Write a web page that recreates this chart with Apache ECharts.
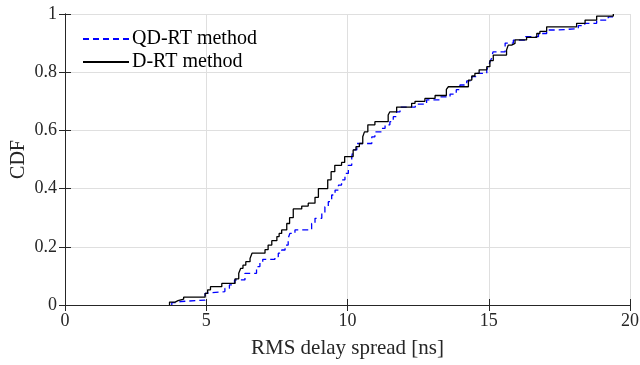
<!DOCTYPE html>
<html>
<head>
<meta charset="utf-8">
<script src="https://cdn.jsdelivr.net/npm/echarts@6/dist/echarts.min.js"></script>
<style>html,body{margin:0;padding:0;background:#fff}#c{width:640px;height:365px}</style>
</head>
<body>
<div id="c"></div>
<script>
var xTicks = [0, 5, 10, 15, 20];
var yTicks = [0, 0.2, 0.4, 0.6, 0.8, 1];
var seriesNames = ['QD-RT method', 'D-RT method'];

var qdrt = [
  [3.78,0],[3.78,0.008],[3.9,0.012],[4.1,0.017],[4.96,0.04],[5.02,0.046],
  [5.66,0.057],[5.82,0.069],[6.0,0.086],[6.37,0.109],[6.78,0.132],[6.9,0.145],
  [7.0,0.157],[7.43,0.166],[7.55,0.178],[7.67,0.189],[7.79,0.206],[7.9,0.229],
  [7.96,0.246],[8.14,0.258],[8.73,0.28],[8.85,0.298],[9.09,0.315],[9.2,0.338],
  [9.32,0.355],[9.44,0.378],[9.56,0.395],[9.68,0.412],[9.79,0.43],[9.91,0.452],
  [10.03,0.48],[10.15,0.51],[10.2,0.533],[10.33,0.555],[10.86,0.578],[10.97,0.595],
  [11.21,0.607],[11.33,0.619],[11.5,0.63],[11.62,0.647],[11.74,0.664],[11.86,0.68],
  [12.4,0.69],[12.8,0.705],[13.27,0.715],[13.63,0.725],[13.85,0.74],[13.98,0.756],
  [14.22,0.77],[14.4,0.785],[14.57,0.796],[14.93,0.808],[14.98,0.82],[15.04,0.835],
  [15.1,0.848],[15.15,0.87],[15.58,0.9],[15.87,0.91],[16.3,0.922],[16.76,0.933],
  [17.05,0.945],[17.46,0.95],[18.17,0.96],[18.4,0.968],[18.82,0.979],[19.23,0.99],[19.4,1.0]
];

var drt = [
  [3.7,0],[3.7,0.01],[3.9,0.015],[4.0,0.02],[4.2,0.027],[4.96,0.04],[5.05,0.052],
  [5.15,0.063],[5.55,0.074],[6.02,0.09],[6.15,0.109],[6.22,0.126],[6.3,0.137],
  [6.4,0.149],[6.55,0.16],[6.62,0.178],[7.08,0.19],[7.19,0.206],[7.32,0.221],
  [7.5,0.235],[7.58,0.246],[7.67,0.258],[7.85,0.28],[7.95,0.3],[8.08,0.33],
  [8.38,0.34],[8.61,0.35],[8.85,0.37],[8.97,0.4],[9.3,0.43],[9.42,0.458],
  [9.55,0.48],[9.79,0.49],[9.9,0.51],[10.2,0.533],[10.3,0.544],[10.42,0.555],
  [10.54,0.578],[10.6,0.595],[10.72,0.619],[10.97,0.63],[11.44,0.653],[11.5,0.664],
  [11.74,0.68],[12.27,0.693],[12.39,0.7],[12.74,0.71],[13.1,0.72],[13.5,0.741],
  [13.57,0.75],[14.28,0.773],[14.4,0.787],[14.51,0.796],[14.66,0.808],[14.93,0.819],
  [15.04,0.84],[15.16,0.859],[15.63,0.876],[15.69,0.893],[15.81,0.899],[15.93,0.911],
  [16.34,0.92],[16.7,0.933],[16.81,0.94],[17.05,0.956],[18.11,0.968],[18.41,0.979],
  [18.82,0.993],[19.41,1.0]
];

var FONT = 'Liberation Serif';
var axisCol = '#262626';
function fmtY(v){ return String(Math.round(v*10)/10); }

var chart = echarts.init(document.getElementById('c'), null, {renderer:'canvas'});
chart.setOption({
  animation: false,
  backgroundColor: '#fff',
  textStyle: {fontFamily: FONT},
  grid: {left: 65, right: 10, top: 14, bottom: 60, containLabel: false, outerBoundsMode: 'none'},
  legend: {
    show: true, orient: 'vertical', left: 77, top: 24,
    itemWidth: 46, itemHeight: 14, itemGap: 3,
    itemStyle: {opacity: 0, borderWidth: 0},
    textStyle: {fontFamily: FONT, fontSize: 20, color: '#000', padding: [0,0,0,-2]},
    data: seriesNames
  },
  xAxis: [{
    type: 'value', min: xTicks[0], max: xTicks[xTicks.length-1], interval: 5,
    position: 'bottom',
    name: 'RMS delay spread [ns]', nameLocation: 'middle', nameGap: 33, nameMoveOverlap: false,
    nameTextStyle: {fontFamily: FONT, fontSize: 21, color: '#262626'},
    axisLine: {show: true, lineStyle: {color: axisCol, width: 1}},
    axisTick: {show: true, inside: true, length: 6, lineStyle: {color: axisCol}},
    axisLabel: {fontFamily: FONT, fontSize: 18, color: '#262626', margin: 7},
    splitLine: {show: true, lineStyle: {color: '#dfdfdf', width: 1}}
  },{
    type: 'value', min: xTicks[0], max: xTicks[xTicks.length-1], interval: 5,
    position: 'top',
    axisLine: {show: true, lineStyle: {color: axisCol, width: 1}},
    axisTick: {show: true, inside: true, length: 6, lineStyle: {color: axisCol}},
    axisLabel: {show: false}, splitLine: {show: false}
  }],
  yAxis: [{
    type: 'value', min: yTicks[0], max: yTicks[yTicks.length-1], interval: 0.2,
    position: 'left',
    name: 'CDF', nameLocation: 'middle', nameGap: 36, nameRotate: 90, nameMoveOverlap: false,
    nameTextStyle: {fontFamily: FONT, fontSize: 20, color: '#262626'},
    axisLine: {show: true, lineStyle: {color: axisCol, width: 1}},
    axisTick: {show: true, inside: true, length: 6, lineStyle: {color: axisCol}},
    axisLabel: {fontFamily: FONT, fontSize: 18, color: '#262626', margin: 8, formatter: fmtY},
    splitLine: {show: true, lineStyle: {color: '#dfdfdf', width: 1}}
  },{
    type: 'value', min: yTicks[0], max: yTicks[yTicks.length-1], interval: 0.2,
    position: 'right',
    axisLine: {show: true, lineStyle: {color: axisCol, width: 1}},
    axisTick: {show: true, inside: true, length: 6, lineStyle: {color: axisCol}},
    axisLabel: {show: false}, splitLine: {show: false}
  }],
  series: [{
    name: seriesNames[0], type: 'line', step: 'end', data: qdrt,
    xAxisIndex: 0, yAxisIndex: 0, symbol: 'none', z: 3,
    lineStyle: {color: '#0000ff', width: 1.3, type: [6, 4]},
    itemStyle: {color: '#0000ff'}
  },{
    name: seriesNames[1], type: 'line', step: 'end', data: drt,
    xAxisIndex: 0, yAxisIndex: 0, symbol: 'none', z: 4,
    lineStyle: {color: '#000000', width: 1.3, type: 'solid'},
    itemStyle: {color: '#000000'}
  }]
});
</script>
</body>
</html>
